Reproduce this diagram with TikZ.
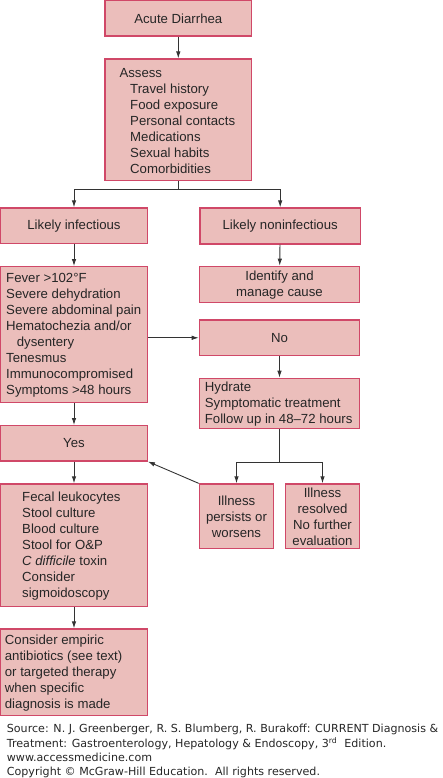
\documentclass[tikz,border=0pt]{standalone}
\usepackage{fontspec}
\setmainfont{Liberation Sans}
\newfontfamily\footfont{DejaVu Sans}
\usetikzlibrary{arrows.meta}
\definecolor{boxfill}{HTML}{EBBEBB}
\definecolor{boxline}{HTML}{D04868}
\definecolor{conn}{HTML}{333333}
\begin{document}
\begin{tikzpicture}[x=1pt,y=-1pt,
  box/.style={draw=boxline,fill=boxfill,line width=1.2pt,inner sep=0pt,rectangle},
  txt/.style={inner sep=0pt,font=\fontsize{13.2}{16}\selectfont,text=black!85},
  conn/.style={draw=conn,line width=0.9pt},
  arr/.style={conn,-{Latex[length=7pt,width=4.5pt]}},
  foot/.style={inner sep=0pt,anchor=base west,font=\footfont\fontsize{11.1}{13}\selectfont,text=black!85}]
\useasboundingbox (0,0) rectangle (443,778);
% boxes
\node[box,minimum width=146.7pt,minimum height=35.3pt] (acute) at (178.3,18.3) {};
\node[box,minimum width=146.7pt,minimum height=121.3pt] (assess) at (178.3,119.7) {};
\node[box,minimum width=146.6pt,minimum height=35.7pt] (inf) at (74,225.8) {};
\node[box,minimum width=160.3pt,minimum height=36pt] (noninf) at (280.2,226) {};
\node[box,minimum width=146.6pt,minimum height=136pt] (fever) at (74,334.7) {};
\node[box,minimum width=160.4pt,minimum height=36pt] (identify) at (279.5,284.3) {};
\node[box,minimum width=160.4pt,minimum height=35.7pt] (no) at (279.5,337.8) {};
\node[box,minimum width=160.4pt,minimum height=50.4pt] (hydrate) at (279.5,403.5) {};
\node[box,minimum width=146.6pt,minimum height=35.3pt] (yes) at (74,443.3) {};
\node[box,minimum width=74.4pt,minimum height=64.7pt] (persists) at (236.5,516.3) {};
\node[box,minimum width=74.4pt,minimum height=64.7pt] (resolved) at (322.5,516.3) {};
\node[box,minimum width=146.6pt,minimum height=122.7pt] (fecal) at (74,545.3) {};
\node[box,minimum width=146.6pt,minimum height=86.7pt] (consider) at (74,672.3) {};
% texts
\node[txt] (tacute) at (acute) {Acute Diarrhea};
\node[txt,anchor=west,align=left] (tassess) at (119.3,120.9) {Assess\\
  \hspace*{10.7pt}Travel history\\
  \hspace*{10.7pt}Food exposure\\
  \hspace*{10.7pt}Personal contacts\\
  \hspace*{10.7pt}Medications\\
  \hspace*{10.7pt}Sexual habits\\
  \hspace*{10.7pt}Comorbidities};
\node[txt] (tinf) at (inf) {Likely infectious};
\node[txt] (tnoninf) at (noninf) {Likely noninfectious};
\node[txt,anchor=west,align=left] (tfever) at (6,335.5) {Fever >102°F\\
  Severe dehydration\\
  Severe abdominal pain\\
  Hematochezia and/or\\
  \hspace*{10.7pt}dysentery\\
  Tenesmus\\
  Immunocompromised\\
  Symptoms >48 hours};
\node[txt,align=center] (tidentify) at (279.5,285.3) {Identify and\\manage cause};
\node[txt] (tno) at (no) {No};
\node[txt,anchor=west,align=left] (thydrate) at (204.7,403.7) {Hydrate\\
  Symptomatic treatment\\
  Follow up in 48–72 hours};
\node[txt] (tyes) at (yes) {Yes};
\node[txt,align=center] (tpersists) at (236.5,517) {Illness\\persists or\\worsens};
\node[txt,align=center] (tresolved) at (322.5,517.2) {Illness\\resolved\\No further\\evaluation};
\node[txt,anchor=west,align=left] (tfecal) at (22,545.7) {Fecal leukocytes\\
  Stool culture\\
  Blood culture\\
  Stool for O\&P\\
  \textit{C difficile} toxin\\
  Consider\\
  sigmoidoscopy};
\node[txt,anchor=west,align=left] (tconsider) at (4.7,673) {Consider empiric\\
  antibiotics (see text)\\
  or targeted therapy\\
  when specific\\
  diagnosis is made};
% connectors
\coordinate (split1) at (178.3,189);
\coordinate (split2) at (279.5,462.7);
\draw[arr] (acute) -- (assess);
\draw[conn] (assess) -- (split1);
\draw[arr] (split1) -| (inf);
\draw[arr] (split1) -| (noninf);
\draw[arr] (inf) -- (fever);
\draw[arr] (noninf) -- (identify);
\draw[arr] (fever.east |- no.west) -- (no.west);
\draw[arr] (fever) -- (yes);
\draw[arr] (no) -- (hydrate);
\draw[conn] (hydrate) -- (split2);
\draw[arr] (split2) -| (persists);
\draw[arr] (split2) -| (resolved);
\draw[arr] (persists.north west) -- (yes.south east);
\draw[arr] (yes) -- (fecal);
\draw[arr] (fecal) -- (consider);
% footer
\node[foot] (f1) at (6.7,732) {Source: N. J. Greenberger, R. S. Blumberg, R. Burakoff: CURRENT Diagnosis \&};
\node[foot] (f2) at (6.7,747) {Treatment: Gastroenterology, Hepatology \& Endoscopy, 3\textsuperscript{rd}\ \ Edition.};
\node[foot] (f3) at (6.7,761) {www.accessmedicine.com};
\node[foot] (f4) at (6.7,775.3) {Copyright © McGraw-Hill Education.\ \ All rights reserved.};
\end{tikzpicture}
\end{document}
